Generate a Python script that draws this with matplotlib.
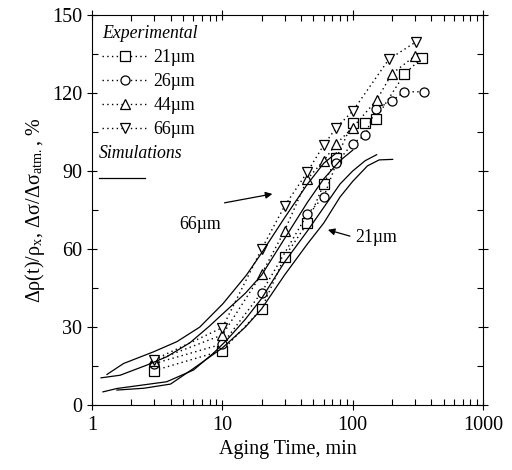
import numpy as np
import matplotlib
matplotlib.use('Agg')
import matplotlib.pyplot as plt
from matplotlib.lines import Line2D

plt.rcParams['font.family'] = ['Liberation Serif', 'DejaVu Serif']
plt.rcParams['mathtext.fontset'] = 'stix'

# experimental data (aging time, min / response, %)
t_21 = [3, 10, 20, 30, 45, 60, 75, 100, 125, 150, 250, 340]
y_21 = [13.3, 21, 37, 57, 70, 85, 95, 108.6, 108.6, 110, 127.3, 133.5]
t_26 = [3, 10, 20, 45, 60, 75, 100, 125, 150, 200, 250, 354]
y_26 = [16, 23.5, 43.3, 73.5, 80, 93, 100.6, 103.8, 113.8, 117, 120.5, 120.5]
t_44 = [3, 10, 20, 30, 45, 60, 75, 100, 153, 200, 300]
y_44 = [17, 27, 50.4, 67, 87, 94, 100.5, 106.7, 117.3, 127.4, 134.2]
t_66 = [3, 10, 20, 30, 45, 60, 75, 100, 190, 305]
y_66 = [17.5, 29.8, 60, 76.5, 89.7, 100, 106.7, 113, 133, 139.6]

# simulation curves
sim_a_t = [1.3, 1.74, 2.96, 4.47, 6.7, 10.1, 15.3, 20, 30, 45, 60, 75]
sim_a_y = [11.8, 16, 20.5, 24.4, 30, 39, 50, 58.5, 72, 85, 93, 97]
sim_b_t = [1.17, 1.64, 2.63, 3.74, 5.64, 8, 10, 15, 20, 30, 45, 60, 80, 100]
sim_b_y = [10.5, 11.5, 15.4, 18.6, 24, 30.5, 35, 43, 50, 64, 78, 87, 94, 98]
sim_c_t = [1.21, 1.55, 3.74, 6, 8.5, 10.8, 15, 20, 30, 45, 60, 80, 100, 125, 153]
sim_c_y = [5.1, 6.4, 9, 13.5, 19.9, 25, 33, 41, 55, 67, 76, 85, 90, 94, 96.3]
sim_d_t = [1.55, 2.5, 4, 6, 10, 15, 20, 30, 45, 60, 80, 100, 130, 160, 203]
sim_d_y = [5.8, 6.5, 8.1, 14.1, 22, 30, 37, 50, 62, 70, 80, 86, 92, 94.3, 94.5]

fig = plt.figure(figsize=(5.12, 4.70), dpi=100)
ax = fig.add_axes([0.18, 0.138, 0.763, 0.83])

dot = (0, (1, 2.4))
mk = dict(color='black', ls=dot, lw=1.0, mfc='white', mec='black', ms=6.5, mew=0.9)
h1, = ax.plot(t_21, y_21, marker='s', **mk)
h2, = ax.plot(t_26, y_26, marker='o', **mk)
h3, = ax.plot(t_44, y_44, marker='^', **mk)
h4, = ax.plot(t_66, y_66, marker='v', **mk)

for st, sy in [(sim_a_t, sim_a_y), (sim_b_t, sim_b_y), (sim_c_t, sim_c_y), (sim_d_t, sim_d_y)]:
    ax.plot(st, sy, color='black', lw=0.9)

ax.set_xscale('log')
ax.set_xlim(1, 1000)
ax.set_ylim(0, 150)
ax.set_yticks([0, 30, 60, 90, 120, 150])
ax.set_yticks(np.arange(15, 150, 30), minor=True)
ax.set_xticks([1, 10, 100, 1000])
ax.set_xticklabels(['1', '10', '100', '1000'])
ax.tick_params(which='both', top=True, right=True, labelsize=14.5)
ax.tick_params(which='major', direction='inout', length=7, width=0.8)
ax.tick_params(which='minor', direction='in', length=4, width=0.8)
ax.tick_params(axis='x', pad=4)

ax.set_xlabel('Aging Time, min', fontsize=14.5)
ax.set_ylabel('Δρ(t)/ρ$_\\mathregular{x}$, Δσ/Δσ$_\\mathregular{atm.}$, %', fontsize=14.5)

# annotations
ax.annotate('', xy=(25.4, 81.4), xytext=(9.9, 77.6),
            arrowprops=dict(arrowstyle='-|>', color='black', lw=0.9, mutation_scale=10))
ax.text(6.7, 69.6, '66µm', fontsize=12.8, ha='center', va='center')
ax.annotate('', xy=(61.6, 67.7), xytext=(100, 64.7),
            arrowprops=dict(arrowstyle='-|>', color='black', lw=0.9, mutation_scale=10))
ax.text(104, 64.5, '21µm', fontsize=12.8, ha='left', va='center')

leg1 = ax.legend([h1, h2, h3, h4], ['21µm', '26µm', '44µm', '66µm'],
                 title='Experimental', loc='upper left', frameon=False,
                 fontsize=12.8, title_fontsize=12.8, alignment='left',
                 handlelength=2.6, handletextpad=0.3, labelspacing=0.4,
                 borderaxespad=0.2, borderpad=0.35)
leg1.get_title().set_fontstyle('italic')
ax.add_artist(leg1)
sim_h = Line2D([], [], color='black', lw=0.9)
leg2 = ax.legend([sim_h], [''], title='Simulations', loc='upper left',
                 bbox_to_anchor=(0.0, 0.685), frameon=False,
                 fontsize=12.8, title_fontsize=12.8, alignment='left',
                 handlelength=2.6, handletextpad=0.3,
                 borderaxespad=0.2, borderpad=0.2)
leg2.get_title().set_fontstyle('italic')

fig.savefig('out.png', dpi=100)
